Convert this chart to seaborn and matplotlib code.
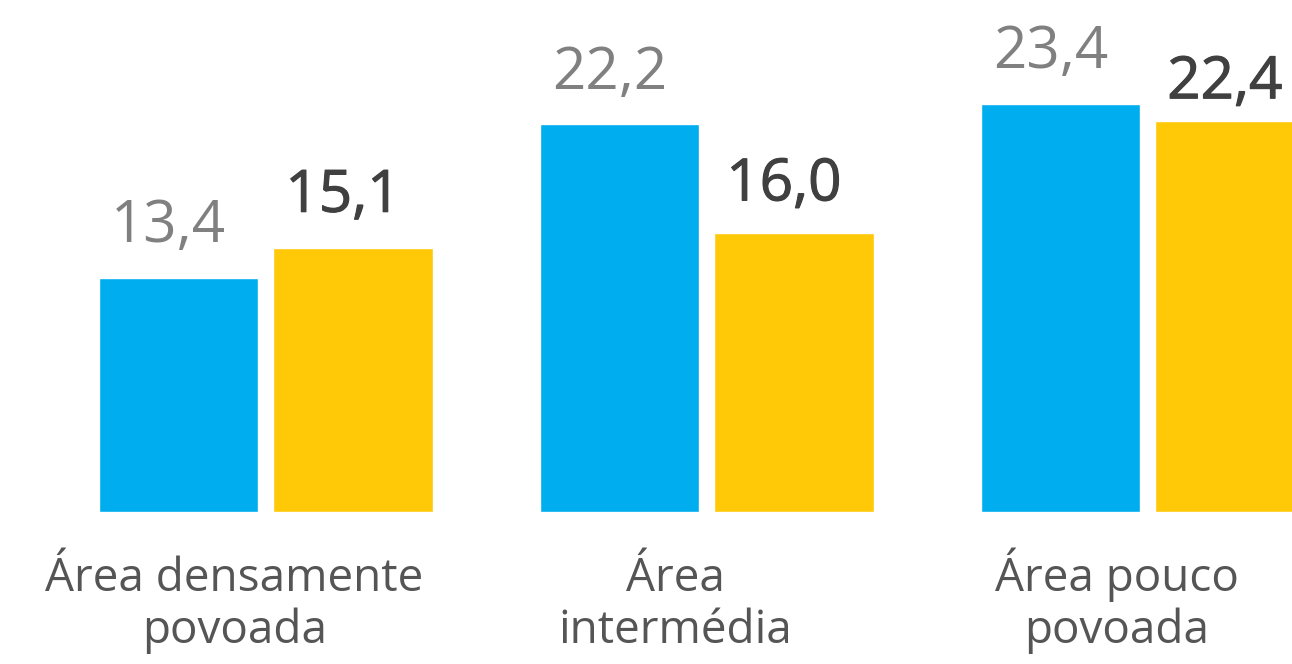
import matplotlib
matplotlib.use("Agg")
import matplotlib.pyplot as plt
import matplotlib.patheffects as pe
import seaborn as sns
import pandas as pd

# data
categories = ["Área densamente\npovoada", "Área\nintermédia", "Área pouco\npovoada"]
series = ["A", "B"]
values_a = [13.4, 22.2, 23.4]
values_b = [15.1, 16.0, 22.4]
labels_a = ["13,4", "22,2", "23,4"]
labels_b = ["15,1", "16,0", "22,4"]

df = pd.DataFrame({
    "categoria": categories * 2,
    "serie": [series[0]] * 3 + [series[1]] * 3,
    "valor": values_a + values_b,
})

sns.set_style("white")
plt.rcParams["font.family"] = ["Open Sans", "DejaVu Sans"]

fig = plt.figure(figsize=(12.92, 6.64), dpi=100)
ax = fig.add_axes([0, 152 / 664, 1, 512 / 664])

group_w = 0.791
sns.barplot(data=df, x="categoria", y="valor", hue="serie",
            palette=["#00AEEF", "#FFC907"], width=group_w, gap=0.086,
            legend=False, ax=ax, saturation=1)

ax.set_xlim(-0.603, 2.327)
ax.set_ylim(0, 29.33)

# value labels above bars
slot = group_w / 2
gaps_b = [2.1, 1.85, 1.3]
thick = [pe.withStroke(linewidth=0.8, foreground="#404040")]
for i in range(3):
    ax.text(i - slot / 2 - 0.023, values_a[i] + 2.05, labels_a[i],
            ha="center", va="baseline", fontsize=42, color="#808080")
    ax.text(i + slot / 2 - 0.023, values_b[i] + gaps_b[i], labels_b[i],
            ha="center", va="baseline", fontsize=42, color="#404040",
            path_effects=thick)

# category labels, one line at a time
trans = ax.get_xaxis_transform()
for i, cat in enumerate(categories):
    for j, line in enumerate(cat.split("\n")):
        ax.text(i - 0.071, -0.154 - j * 0.102, line, transform=trans,
                ha="center", va="baseline", fontsize=33, color="#555555")

ax.set_xticks([])
ax.set_yticks([])
ax.set_xlabel("")
ax.set_ylabel("")
sns.despine(ax=ax, left=True, bottom=True)

fig.savefig("out.png", dpi=100)
